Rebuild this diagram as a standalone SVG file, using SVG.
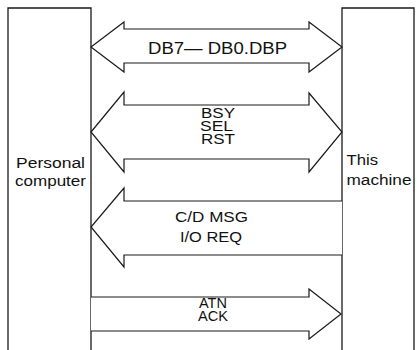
<svg xmlns="http://www.w3.org/2000/svg" width="417" height="350" viewBox="0 0 417 350">
<style>
.box{fill:#fff;stroke:#1a1a1a;stroke-width:1.3}
.arr{fill:#fff;stroke:#1a1a1a;stroke-width:1.2;stroke-linejoin:miter}
.t{font-family:"Liberation Sans",Arial,sans-serif;fill:#111;text-anchor:middle}
.tl{font-family:"Liberation Sans",Arial,sans-serif;fill:#111;text-anchor:start}
</style>
<rect width="417" height="350" fill="#fff"/>
<g id="pc">
<path class="box" d="M8,352 V8 H91 V352"/>
<text class="tl" x="16" y="168" font-size="15.5" textLength="69" lengthAdjust="spacingAndGlyphs">Personal</text>
<text class="tl" x="15" y="186" font-size="15.5" textLength="71" lengthAdjust="spacingAndGlyphs">computer</text>
</g>
<g id="machine">
<path class="box" d="M342,352 V8 H414 V352"/>
<text class="tl" x="346.5" y="165" font-size="15.5" textLength="31.5" lengthAdjust="spacingAndGlyphs">This</text>
<text class="tl" x="346.5" y="185" font-size="15.5" textLength="65" lengthAdjust="spacingAndGlyphs">machine</text>
</g>
<g id="connectors">
<polygon class="arr" points="91,47 124,22 124,29 309,29 309,22 342,47 309,72 309,63 124,63 124,72"/>
<polygon class="arr" points="91,132 124,92 124,105 309,105 309,93 342,132 309,172 309,159 124,159 124,172"/>
<path class="arr" d="M342,201 H124 V188 L91,227 L124,267 V255 H342"/>
<path class="arr" d="M91,297 H309 V289 L341,314 L309,339 V331 H91"/>
</g>
<g id="labels">
<text class="t" x="217.5" y="54" font-size="16" textLength="139" lengthAdjust="spacingAndGlyphs">DB7— DB0.DBP</text>
<text class="t" x="218" y="118" font-size="15" textLength="34" lengthAdjust="spacingAndGlyphs">BSY</text>
<text class="t" x="216.5" y="131" font-size="15" textLength="33" lengthAdjust="spacingAndGlyphs">SEL</text>
<text class="t" x="218" y="144" font-size="15" textLength="34" lengthAdjust="spacingAndGlyphs">RST</text>
<text class="t" x="211.5" y="222" font-size="15" textLength="73" lengthAdjust="spacingAndGlyphs">C/D MSG</text>
<text class="t" x="211" y="242" font-size="15" textLength="62" lengthAdjust="spacingAndGlyphs">I/O REQ</text>
<text class="t" x="213" y="308" font-size="15" textLength="28" lengthAdjust="spacingAndGlyphs">ATN</text>
<text class="t" x="213" y="321" font-size="15" textLength="30" lengthAdjust="spacingAndGlyphs">ACK</text>
</g>
</svg>
